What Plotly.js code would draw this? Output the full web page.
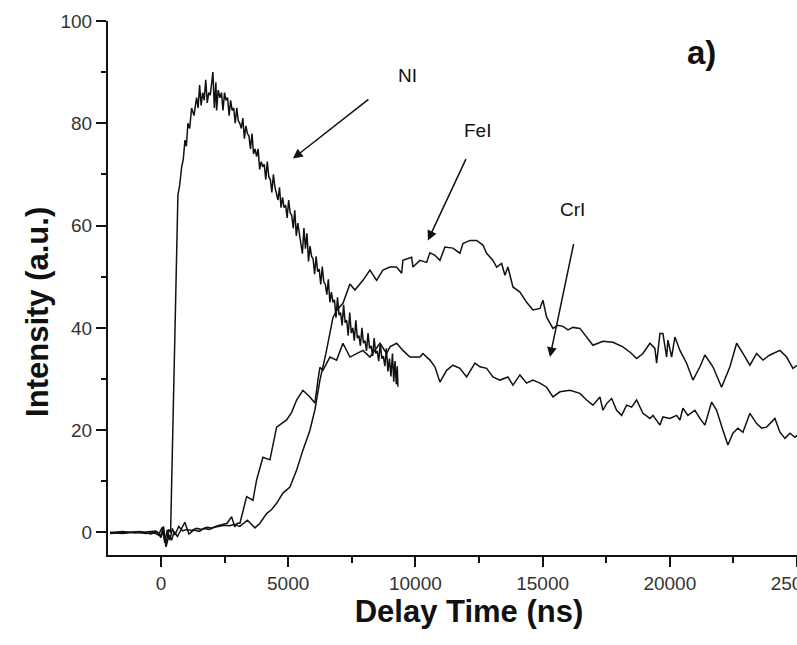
<!DOCTYPE html>
<html>
<head>
<meta charset="utf-8">
<script src="https://cdn.plot.ly/plotly-3.0.1.min.js"></script>
<style>
html,body{margin:0;padding:0;background:#fff;overflow:hidden;width:797px;height:645px;}
#chart{width:830px;height:645px;}
</style>
</head>
<body>
<div id="chart"></div>
<script>
// Delay time (ns) and intensity (a.u.)
const niX = [-2000,-1500,-1000,-500,-200,0,100,200,300,380,400,483,560,620,668,740,813,880,943,1000,1061,1130,1206,1300,1400,1460,1520,1580,1640,1700,1760,1820,1880,1940,2000,2043,2100,2160,2189,2250,2319,2380,2440,2500,2560,2620,2680,2740,2800,2860,2920,2980,3040,3100,3160,3220,3280,3340,3400,3460,3520,3580,3640,3700,3760,3820,3880,3940,4000,4060,4120,4180,4240,4300,4360,4420,4480,4540,4600,4660,4720,4780,4840,4900,4960,5020,5080,5140,5200,5260,5320,5380,5440,5500,5560,5620,5680,5740,5800,5860,5920,5980,6040,6100,6160,6220,6280,6340,6400,6460,6520,6580,6640,6700,6760,6820,6880,6940,7000,7060,7120,7180,7240,7300,7360,7420,7480,7540,7600,7660,7720,7780,7840,7900,7960,8020,8080,8140,8200,8260,8320,8380,8440,8500,8560,8620,8680,8740,8800,8860,8920,8980,9040,9100,9150,9200,9250,9290,9314];
const niY = [0,0.2,-0.1,0.1,0.3,-0.6,1.2,-2.4,0.6,0,5,26,45,58,66,68,71.4,73,76.7,75.5,80,79,83,81.5,85,83,87.5,83.5,86,84.5,88.5,84,86,85.5,89,90,83,88,82.5,86.5,85,86,82.5,86,84.5,85,81.5,84.5,82.5,83,80,83,80.5,80,79,81,77,79.5,78,77.5,75,78,74,75,73.5,75,71,72.5,71.5,72,69,72.5,69.5,69,66.5,70,67.5,66.5,65,67.5,63.5,65.5,63.5,64,61.5,65,62.5,62,59.5,63,58,60.5,58,56.5,54.5,59.5,55.5,58.5,53,56,54,53.5,50.5,54,51,51.5,48.5,52,49,48.5,46.5,49.5,45,47,45,45.5,42,46,42.5,43,40.5,44.5,41,41.5,38.5,43,39,40,37.5,41.5,38,38.5,36.5,40,37,37.5,35.5,39,36,36.5,34.5,38,35,35.5,33.5,37,34,34.5,32.5,36,31.5,34,30.5,35,29.5,33.5,29,32.5,28.5];

const feX = [-2000,-1400,-800,-400,-150,0,100,200,320,420,520,650,800,940,1100,1300,1500,1700,1900,2100,2300,2500,2700,2900,3100,3400,3694,3891,4154,4350,4547,4795,5070,5333,5581,5856,6052,6249,6485,6760,6905,7153,7428,7624,7939,8214,8477,8725,9000,9263,9459,9511,9853,9904,10179,10442,10572,10768,10965,11161,11476,11751,11869,12144,12407,12655,12800,13048,13193,13390,13519,13637,13834,14109,14372,14620,14895,15013,15158,15406,15600,15799,16000,16192,16467,16730,16978,17371,17764,18157,18450,18695,18943,19218,19414,19481,19611,19729,19874,19926,20071,20200,20397,20660,20908,21183,21379,21694,22035,22362,22625,22873,23148,23411,23659,23934,24327,24590,24838,25000];
const feY = [-0.2,0,0.2,-0.3,0.1,-1,0.5,-2.8,-0.5,-1.5,0.2,-0.8,0.5,2,-0.3,0.5,0.2,0.8,0.6,1,1.2,1.4,1.3,1.6,1.2,2.4,0.9,1.8,3.7,4.5,5.7,7.7,8.9,12.2,16.1,20,24,29.8,35,42,43.4,44.8,48.6,47.4,49.3,51.3,49.3,51.3,51.9,51.9,50.7,53.2,53.8,51.9,53.2,52.8,54.7,54.2,53.2,55.8,55.6,54.6,56.5,57.1,57.1,56.2,54.6,53.2,51.9,52.6,50.3,51.9,48,47,45,43.5,43.8,45.4,42.1,39.9,40.5,40.3,39.6,40.1,39.9,38.2,36.6,37.4,37.2,36.3,35.2,34,35,37,36,33.1,38.9,38.9,34.3,37.6,34.3,38.2,35.6,33.1,29.8,32.4,34.7,32.4,28.4,32.4,37,35,32.7,35,33.7,34.7,35.6,34.3,32.1,32.7];

const crX = [-2000,-1500,-1000,-600,-300,-100,50,150,250,350,450,550,700,850,1000,1200,1400,1600,1800,2000,2200,2400,2600,2778,2900,3000,3105,3368,3616,3761,4009,4284,4547,4940,5137,5333,5581,5856,6052,6170,6249,6367,6642,6905,7153,7428,7691,7939,8214,8607,8870,9000,9263,9511,9786,10179,10297,10572,10768,10965,11228,11476,11751,12014,12340,12537,12800,13048,13323,13637,13834,14109,14372,14620,14895,15158,15406,15681,16074,16467,16730,16978,17253,17371,17516,17713,17909,18106,18302,18499,18695,18943,19218,19336,19611,19729,20004,20267,20397,20515,20711,20986,21183,21379,21643,21839,22087,22283,22480,22676,22873,23148,23411,23608,23804,24130,24327,24523,24720,24916,25000];
const crY = [0,-0.2,0.1,-0.2,0,-0.5,1,-2,0.5,-1.5,0.8,-0.5,1.2,0.3,0.6,0.4,0.8,0.6,1,0.9,1.3,1.5,1.8,3.1,1.1,1.8,1.8,7,6.3,10.3,14.7,14.2,20.6,22,23.5,25.9,27.8,26.5,25.3,29.8,32.3,31.7,34.3,33.7,37,34.3,35,35.6,34.3,37,35,36.3,37,35.6,34.3,34.3,35,33.7,32.4,29.4,31.7,32.7,32.1,30.4,33.1,32.4,32.1,30.4,29.8,30.4,28.8,30.8,29.2,29.8,29.2,28.4,26.5,27.5,27.8,27.2,25.9,24.9,26.5,23.9,25.2,26.2,23.9,22.9,24.9,24.5,25.9,23.3,22.3,22.9,21,22.6,22.3,22.9,22,24.3,22.9,23.9,22.3,21,25.5,23.9,20,17.1,19.4,20.4,19.6,23.3,21.3,20.4,20.6,22.3,19.6,18.4,19.4,18.6,19];

const xTickVals = [0,5000,10000,15000,20000,25000];
const yTickVals = [0,20,40,60,80,100];

const lineStyle = {color:'#111', width:1.5};
const traces = [
  {x:niX, y:niY, name:'NI', mode:'lines', line:lineStyle},
  {x:feX, y:feY, name:'FeI', mode:'lines', line:lineStyle},
  {x:crX, y:crY, name:'CrI', mode:'lines', line:lineStyle}
];

const tickFont = {family:'Liberation Sans, Arial, sans-serif', size:19, color:'#333'};
const titleFont = {family:'Liberation Sans, Arial, sans-serif', size:31, color:'#111', weight:'bold'};
const labelFont = {family:'Liberation Sans, Arial, sans-serif', size:19, color:'#111'};

function arrow(hx, hy, tx, ty){
  return {x:hx, y:hy, ax:tx, ay:ty, axref:'x', ayref:'y', xref:'x', yref:'y', text:'', showarrow:true,
          arrowhead:2, arrowsize:1.3, arrowwidth:1.5, arrowcolor:'#111', standoff:0};
}

const layout = {
  width:830, height:645,
  margin:{l:108, r:0, t:21, b:90},
  paper_bgcolor:'#fff', plot_bgcolor:'#fff',
  showlegend:false,
  xaxis:{
    range:[-2080, 26295], tickvals:xTickVals, ticktext:xTickVals.map(String),
    showgrid:false, zeroline:false, showline:true, linecolor:'#111', linewidth:2,
    ticks:'outside', ticklen:10, tickwidth:2, tickcolor:'#111', tickfont:tickFont,
    minor:{dtick:2500, tick0:0, ticks:'outside', ticklen:6, tickwidth:2, tickcolor:'#111', showgrid:false},
    title:{text:'Delay Time (ns)', font:titleFont, standoff:1}
  },
  yaxis:{
    range:[-4.4, 100], tickvals:yTickVals, ticktext:yTickVals.map(String),
    showgrid:false, zeroline:false, showline:true, linecolor:'#111', linewidth:2,
    ticks:'outside', ticklen:10, tickwidth:2, tickcolor:'#111', tickfont:tickFont,
    minor:{dtick:10, tick0:0, ticks:'outside', ticklen:5, tickwidth:2, tickcolor:'#111', showgrid:false},
    title:{text:''}
  },
  annotations:[
    {xref:'paper', yref:'paper', x:-0.0985, y:0.455, text:'Intensity (a.u.)', textangle:-90, showarrow:false,
     font:titleFont, xanchor:'center', yanchor:'middle'},
    {x:9707, y:89.4, text:'NI', showarrow:false, font:labelFont},
    {x:12458, y:78.6, text:'FeI', showarrow:false, font:labelFont},
    {x:16192, y:63.2, text:'CrI', showarrow:false, font:labelFont},
    {x:21261, y:93.8, text:'a)', showarrow:false, font:{family:'Liberation Sans, Arial, sans-serif', size:33, color:'#111', weight:'bold'}},
    arrow(5188, 73.1, 8214, 84.9),
    arrow(10493, 57.1, 12014, 73.3),
    arrow(15288, 34.3, 16231, 56.7)
  ]
};

Plotly.newPlot('chart', traces, layout, {displayModeBar:false, staticPlot:true});
</script>
</body>
</html>
